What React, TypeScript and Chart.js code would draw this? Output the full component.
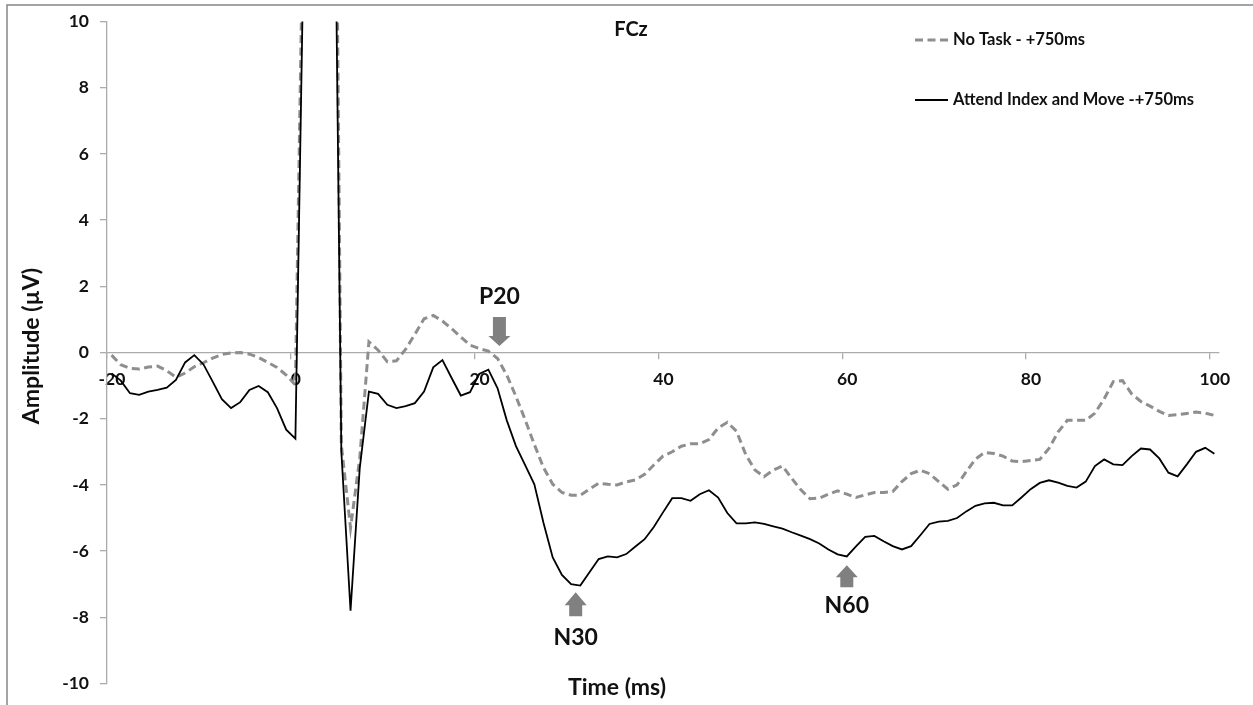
import React, { useEffect, useRef } from 'react';
import { Chart, registerables } from 'chart.js';

Chart.register(...registerables);

// ---- Data ----
// sample times (ms), one sample per ms, centred on half-ms points
const times: number[] = Array.from({ length: 121 }, (_, i) => -19.5 + i);

const noTask: number[] = [
  -0.08, -0.37, -0.48, -0.50, -0.44, -0.41, -0.55, -0.75, -0.62, -0.43,
  -0.31, -0.17, -0.06, -0.01, 0.00, -0.05, -0.15, -0.30, -0.45, -0.68,
  -0.98, 16, 32, 34, 28, -2.8, -5.3, -3.2, 0.32, 0.07,
  -0.28, -0.25, 0.10, 0.55, 1.02, 1.12, 0.95, 0.72, 0.47, 0.22,
  0.12, 0.04, -0.18, -0.68, -1.33, -2.03, -2.78, -3.48, -3.98, -4.23,
  -4.31, -4.31, -4.13, -3.95, -3.98, -4.00, -3.91, -3.85, -3.68, -3.40,
  -3.13, -3.00, -2.83, -2.76, -2.76, -2.63, -2.28, -2.11, -2.38, -3.08,
  -3.55, -3.75, -3.55, -3.43, -3.80, -4.15, -4.42, -4.40, -4.28, -4.18,
  -4.28, -4.38, -4.30, -4.23, -4.23, -4.20, -3.90, -3.66, -3.56, -3.66,
  -3.90, -4.13, -4.00, -3.60, -3.22, -3.02, -3.05, -3.13, -3.28, -3.30,
  -3.26, -3.23, -2.90, -2.40, -2.05, -2.05, -2.05, -1.83, -1.40, -0.88,
  -0.85, -1.25, -1.48, -1.62, -1.78, -1.90, -1.88, -1.84, -1.80, -1.83,
  -1.90,
];

const attend: number[] = [
  -0.63, -0.85, -1.23, -1.28, -1.18, -1.13, -1.06, -0.83, -0.30, -0.08,
  -0.36, -0.88, -1.41, -1.68, -1.50, -1.13, -1.01, -1.20, -1.68, -2.33,
  -2.60, 14, 30, 32, 22, -3.0, -7.8, -3.5, -1.18, -1.25,
  -1.58, -1.68, -1.62, -1.53, -1.18, -0.45, -0.23, -0.77, -1.30, -1.20,
  -0.65, -0.52, -1.08, -2.05, -2.83, -3.40, -3.98, -5.15, -6.19, -6.72,
  -7.00, -7.04, -6.64, -6.24, -6.16, -6.19, -6.09, -5.86, -5.64, -5.27,
  -4.83, -4.40, -4.40, -4.48, -4.28, -4.16, -4.38, -4.85, -5.16, -5.16,
  -5.13, -5.18, -5.25, -5.32, -5.43, -5.53, -5.64, -5.77, -5.95, -6.10,
  -6.16, -5.86, -5.57, -5.54, -5.70, -5.85, -5.95, -5.85, -5.52, -5.18,
  -5.11, -5.09, -5.00, -4.80, -4.63, -4.56, -4.54, -4.62, -4.62, -4.38,
  -4.13, -3.94, -3.86, -3.93, -4.03, -4.08, -3.90, -3.43, -3.23, -3.38,
  -3.40, -3.13, -2.90, -2.93, -3.20, -3.63, -3.74, -3.38, -3.00, -2.88,
  -3.06,
];

const seriesNames: string[] = ['No Task - +750ms', 'Attend Index and Move -+750ms'];
const xTickValues: number[] = [-20, 0, 20, 40, 60, 80, 100];
const yTickStep = 2;

// peak annotations (data coordinates)
const peakNames: string[] = ['P20', 'N30', 'N60'];
const peakTimes: number[] = [22.7, 31.0, 60.5];
const peakArrowTips: number[] = [0.2, -7.24, -6.43];
const peakLabelValues: number[] = [1.68, -8.62, -7.66];
const peakDirections: string[] = ['down', 'up', 'up'];

const FONT = 'Lato, "Open Sans", "DejaVu Sans", sans-serif';
const AXIS_GRAY = '#ababab';
const TEXT = '#111111';

const decorPlugin = {
  id: 'decor',
  beforeDraw(chart: any) {
    const { ctx, width, height } = chart;
    ctx.save();
    ctx.fillStyle = '#ffffff';
    ctx.fillRect(0, 0, width, height);
    ctx.strokeStyle = '#878787';
    ctx.lineWidth = 1.5;
    ctx.beginPath();
    ctx.moveTo(7, height);
    ctx.lineTo(7, 5);
    ctx.lineTo(width, 5);
    ctx.stroke();
    ctx.restore();
  },
  afterDatasetsDraw(chart: any) {
    const { ctx, scales } = chart;
    const xs = scales.x;
    const ys = scales.y;
    ctx.save();

    // arrows
    const arrowLens = [
      { head: 10, shaft: 19 },
      { head: 13, shaft: 11 },
      { head: 12, shaft: 10 },
    ];
    const hw = 22;
    const sw = 13;
    peakNames.forEach((name, i) => {
      const px = xs.getPixelForValue(peakTimes[i]);
      const py = ys.getPixelForValue(peakArrowTips[i]);
      const s = peakDirections[i] === 'down' ? 1 : -1;
      const { head, shaft } = arrowLens[i];
      ctx.fillStyle = '#808080';
      ctx.beginPath();
      ctx.moveTo(px - sw / 2, py - s * (head + shaft));
      ctx.lineTo(px + sw / 2, py - s * (head + shaft));
      ctx.lineTo(px + sw / 2, py - s * head);
      ctx.lineTo(px + hw / 2, py - s * head);
      ctx.lineTo(px, py);
      ctx.lineTo(px - hw / 2, py - s * head);
      ctx.lineTo(px - sw / 2, py - s * head);
      ctx.closePath();
      ctx.fill();

      ctx.fillStyle = TEXT;
      ctx.font = `bold 23px ${FONT}`;
      ctx.textAlign = 'center';
      ctx.textBaseline = 'middle';
      ctx.fillText(name, xs.getPixelForValue(peakTimes[i]), ys.getPixelForValue(peakLabelValues[i]));
    });

    // titles
    ctx.fillStyle = TEXT;
    ctx.font = `bold 20px ${FONT}`;
    ctx.textAlign = 'center';
    ctx.textBaseline = 'middle';
    ctx.fillText('FCz', 631, 30);

    ctx.font = `bold 23px ${FONT}`;
    ctx.fillText('Time (ms)', 617, 688);

    ctx.save();
    ctx.translate(32, 346);
    ctx.rotate(-Math.PI / 2);
    ctx.fillText('Amplitude (µV)', 0, 0);
    ctx.restore();

    // legend
    const ds = chart.data.datasets;
    const legendY = [40, 100];
    ds.forEach((d: any, i: number) => {
      ctx.save();
      ctx.strokeStyle = d.borderColor;
      ctx.lineWidth = d.borderWidth;
      ctx.setLineDash(d.borderDash || []);
      ctx.beginPath();
      ctx.moveTo(915, legendY[i]);
      ctx.lineTo(948, legendY[i]);
      ctx.stroke();
      ctx.restore();
      ctx.fillStyle = TEXT;
      ctx.font = `bold 16.5px ${FONT}`;
      ctx.textAlign = 'left';
      ctx.textBaseline = 'middle';
      ctx.fillText(d.label, 953, legendY[i]);
    });

    ctx.restore();
  },
};

export default function App() {
  const canvasRef = useRef<HTMLCanvasElement | null>(null);

  useEffect(() => {
    const canvas = canvasRef.current;
    if (!canvas) return;
    const tickFont = { family: FONT, weight: 'bold' as const, size: 17.5 };
    const chart = new Chart(canvas, {
      type: 'line',
      data: {
        datasets: [
          {
            label: seriesNames[0],
            data: times.map((t, i) => ({ x: t, y: noTask[i] })),
            borderColor: '#8e8e8e',
            borderWidth: 3,
            borderDash: [8, 4.5],
            pointRadius: 0,
            tension: 0,
            fill: false,
            order: 1,
          },
          {
            label: seriesNames[1],
            data: times.map((t, i) => ({ x: t, y: attend[i] })),
            borderColor: '#000000',
            borderWidth: 1.8,
            pointRadius: 0,
            tension: 0,
            fill: false,
            order: 0,
          },
        ],
      },
      options: {
        responsive: false,
        animation: false,
        layout: { padding: { left: 8, top: 21, right: 34, bottom: 18 } },
        plugins: {
          legend: { display: false },
          tooltip: { enabled: false },
          title: { display: false },
        },
        scales: {
          x: {
            type: 'linear',
            axis: 'x',
            min: -20,
            max: 101,
            position: { y: 0 } as any,
            afterBuildTicks: (s: any) => {
              s.ticks = xTickValues.map((v) => ({ value: v }));
            },
            grid: {
              drawOnChartArea: false,
              drawTicks: true,
              tickLength: 6,
              color: AXIS_GRAY,
              lineWidth: 1.3,
            },
            border: { display: true, color: AXIS_GRAY, width: 1.3 },
            ticks: {
              font: tickFont,
              color: TEXT,
              padding: 10,
              labelOffset: 5,
              maxRotation: 0,
              autoSkip: false,
            },
          },
          y: {
            type: 'linear',
            position: 'left',
            min: -10,
            max: 10,
            afterFit: (s: any) => {
              s.width = 99;
            },
            grid: {
              drawOnChartArea: false,
              drawTicks: true,
              tickLength: 7,
              color: AXIS_GRAY,
              lineWidth: 1.3,
            },
            border: { display: true, color: AXIS_GRAY, width: 1.3 },
            ticks: {
              stepSize: yTickStep,
              font: tickFont,
              color: TEXT,
              padding: 11,
            },
          },
        },
      },
      plugins: [decorPlugin],
    });

    let alive = true;
    if ((document as any).fonts && (document as any).fonts.load) {
      Promise.all([
        (document as any).fonts.load(`bold 17px Lato`),
        (document as any).fonts.load(`bold 23px Lato`),
      ]).then(() => {
        if (alive) chart.update();
      }).catch(() => {});
    }

    return () => {
      alive = false;
      chart.destroy();
    };
  }, []);

  return (
    <div style={{ position: 'fixed', left: 0, top: 0, width: 1253, height: 705, background: '#fff' }}>
      <canvas ref={canvasRef} width={1253} height={705} style={{ display: 'block', width: 1253, height: 705 }} />
    </div>
  );
}
